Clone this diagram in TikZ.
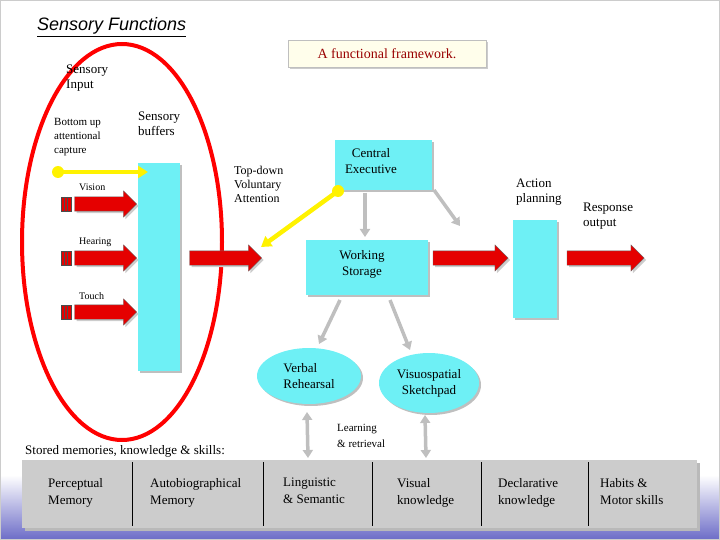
\documentclass[tikz,border=0pt]{standalone}
\usepackage{fontspec}
\setmainfont{Liberation Serif}
\setsansfont{Liberation Sans}
\usetikzlibrary{shapes.geometric,shapes.arrows,arrows.meta,shadows}
\definecolor{aqua}{RGB}{110,240,245}
\begin{document}
\begin{tikzpicture}[x=1pt,y=-1pt,
 cyanbox/.style={fill=aqua,draw=none,drop shadow={shadow xshift=2pt,shadow yshift=-2pt,fill=gray!50,opacity=1}},
 redarr/.style={draw=black!60,fill=red!90!black,line width=0.3pt,shape=single arrow,minimum width=0pt,single arrow head extend=6pt,inner sep=7pt,
   drop shadow={shadow xshift=2pt,shadow yshift=-2pt,fill=gray!40,opacity=1}},
 lbl/.style={font=\fontsize{13}{15}\selectfont,align=left,inner sep=0pt,anchor=north west},
 small/.style={font=\fontsize{10}{11}\selectfont,align=left,inner sep=0pt,anchor=north west},
 garr/.style={draw=gray!50,line width=3.5pt,-{Triangle[width=10pt,length=8pt]}},
 yarr/.style={draw=yellow,line width=4.5pt,-{Triangle[width=12pt,length=10pt]}}]
\useasboundingbox (0,0) rectangle (720,540);
\shade[top color=white,bottom color=blue!45!gray!80] (0,475) rectangle (720,540);
\draw[gray!40,line width=1pt] (0.5,0.5) rectangle (719.5,539.5);
% title
\node[font=\sffamily\itshape\fontsize{18}{20}\selectfont,inner sep=0pt,anchor=west] (title) at (37,27) {\underline{Sensory Functions}};
\node[draw=gray!50,fill=yellow!8,minimum width=198,minimum height=27,font=\fontsize{14}{15}\selectfont,text=red!60!black,
 drop shadow={shadow xshift=2pt,shadow yshift=-2pt,fill=gray!40,opacity=1}] (frame) at (387,54) {A functional framework.};
% ellipse
\draw[red,line width=4pt] (122,242) ellipse [x radius=100,y radius=198];
\node[lbl] (si) at (66,65) {Sensory\\Input};
\node[small,font=\fontsize{11}{14}\selectfont] (bu) at (54,118) {Bottom up\\attentional\\capture};
\node[lbl] (sb) at (138,112) {Sensory\\buffers};
% buffer
\node[cyanbox,minimum width=42,minimum height=208,anchor=north west,inner sep=0] (buf) at (138,163) {};
\coordinate (ys) at (58,172);
\draw[yarr] (ys) -- (148,172);
\fill[yellow] (ys) circle (6);
% sensory arrows
\foreach \y/\t/\n in {204/Vision/v,258/Hearing/h,312/Touch/t}{
 \node[small] (l\n) at (79,\y-20) {\t};
 \node[redarr,minimum height=62] (a\n) at (102,\y) {};
 \fill[red!90!black] (61,\y-7) rectangle (71,\y+7);
 \draw[black!70] (61,\y-7) rectangle (71,\y+7) (64,\y-7)--(64,\y+7) (67,\y-7)--(67,\y+7);
}
\node[redarr,minimum height=72] (mid) at (222,258) {};
\node[lbl,font=\fontsize{12}{14}\selectfont] (td) at (234,166) {Top-down\\Voluntary\\Attention};
% central exec & working storage
\node[cyanbox,minimum width=97,minimum height=50,anchor=north west,inner sep=0] (ce) at (335,140) {};
\node[font=\fontsize{13}{16}\selectfont,align=center,anchor=north,inner sep=0] at (371,148) {Central\\Executive};
\node[cyanbox,minimum width=122,minimum height=55,anchor=north west,inner sep=0] (ws) at (306,240) {};
\node[font=\fontsize{13}{16}\selectfont,align=center,anchor=north,inner sep=0] at (362,250) {Working\\Storage};
\draw[garr] (365,193) -- (365,237);
\draw[garr] (434,190) -- (460,226);
\coordinate (yc) at (338,191);
\draw[yarr] (yc) -- (261,247);
\fill[yellow] (yc) circle (6);
% action
\node[lbl] (ap) at (516,179) {Action\\planning};
\node[cyanbox,minimum width=44,minimum height=98,anchor=north west,inner sep=0] (act) at (513,220) {};
\node[lbl] (ro) at (583,203) {Response\\output};
\node[redarr,minimum height=75] (a1) at (467,258) {};
\node[redarr,minimum height=77] (a2) at (602,258) {};
% ellipses
\node[ellipse,cyanbox,minimum width=104,minimum height=56,font=\fontsize{13}{16}\selectfont,align=left,inner sep=0] (vr) at (309,376) {Verbal\\Rehearsal};
\node[ellipse,cyanbox,minimum width=100,minimum height=60,font=\fontsize{13}{16}\selectfont,align=center,inner sep=0] (vs) at (429,383) {Visuospatial\\Sketchpad};
\draw[garr] (340,300) -- (319,344);
\draw[garr] (390,300) -- (410,350);
\draw[draw=gray!50,line width=3.5pt,{Triangle[width=10pt,length=8pt]}-{Triangle[width=10pt,length=8pt]}] (307,412) -- (308,458);
\draw[draw=gray!50,line width=3.5pt,{Triangle[width=10pt,length=8pt]}-{Triangle[width=10pt,length=8pt]}] (425,415) -- (426,458);
\node[small,font=\fontsize{11}{16}\selectfont] (lr) at (337,424) {Learning\\\& retrieval};
\node[lbl,anchor=west] (sm) at (25,451) {Stored memories, knowledge \& skills:};
% memory bar
\node[fill=gray!40,minimum width=675,minimum height=68,anchor=north west,inner sep=0,
 drop shadow={shadow xshift=3pt,shadow yshift=-3pt,fill=gray!55,opacity=1}] (bar) at (22,460) {};
\foreach \x in {132,263,372,481,588}{\draw[black,line width=0.8pt] (\x,462)--(\x,526);}
\foreach \x/\t in {48/Perceptual\\Memory,150/Autobiographical\\Memory,283/Linguistic\\\& Semantic,397/Visual\\knowledge,498/Declarative\\knowledge,600/Habits \&\\Motor skills}{
 \node[lbl,font=\fontsize{13}{17}\selectfont] at (\x,478) {\t};}
\end{tikzpicture}
\end{document}
